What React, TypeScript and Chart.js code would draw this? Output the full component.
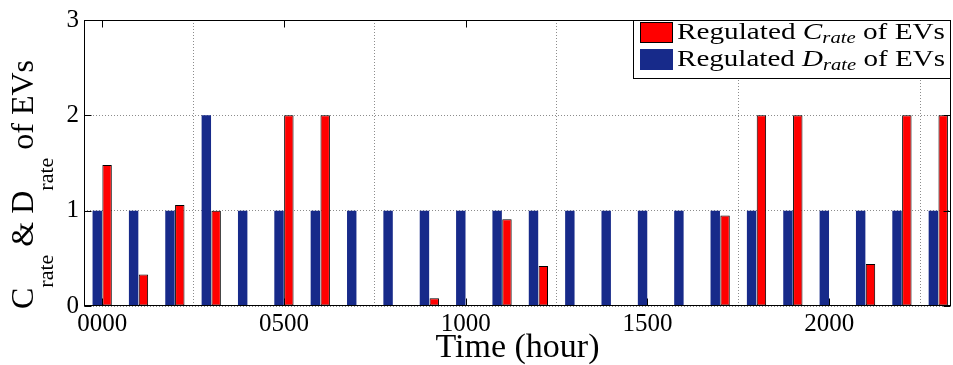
import { useEffect, useRef } from "react";
import { Chart, registerables } from "chart.js";

Chart.register(...registerables);

// Hour of day for each group of bars
const hours = [
  0, 100, 200, 300, 400, 500, 600, 700, 800, 900, 1000, 1100,
  1200, 1300, 1400, 1500, 1600, 1700, 1800, 1900, 2000, 2100, 2200, 2300,
];

// Regulated discharging rate (D_rate) of EVs
const dischargeRate = [
  1, 1, 1, 2, 1, 1, 1, 1, 1, 1, 1, 1,
  1, 1, 1, 1, 1, 1, 1, 1, 1, 1, 1, 1,
];

// Regulated charging rate (C_rate) of EVs
const chargeRate = [
  1.48, 0.33, 1.06, 1.0, 0, 2, 2, 0, 0, 0.08, 0, 0.91,
  0.42, 0, 0, 0, 0, 0.95, 2, 2, 0, 0.44, 2, 2,
];

const xTicks = [0, 500, 1000, 1500, 2000];
const xTickLabels = ["0000", "0500", "1000", "1500", "2000"];
const yTicks = [0, 1, 2, 3];

const SERIF = "'Liberation Serif', 'Times New Roman', serif";
const RED = "#ff0000";
const BLUE = "#172a8a";

type Seg = { text: string; size: number; italic?: boolean; sub?: number };

function drawSegments(ctx: CanvasRenderingContext2D, segs: Seg[]) {
  let x = 0;
  for (const s of segs) {
    ctx.font = `${s.italic ? "italic " : ""}${s.size}px ${SERIF}`;
    ctx.fillText(s.text, x, s.sub || 0);
    x += ctx.measureText(s.text).width;
  }
  return x;
}

function segWidth(ctx: CanvasRenderingContext2D, segs: Seg[]) {
  let w = 0;
  for (const s of segs) {
    ctx.font = `${s.italic ? "italic " : ""}${s.size}px ${SERIF}`;
    w += ctx.measureText(s.text).width;
  }
  return w;
}

// Axes box, inward tick marks, rotated y title with subscripts, and the legend
const decorations = {
  id: "decorations",
  afterDatasetsDraw(chart: any) {
    const { ctx, chartArea: a, scales } = chart;
    const x = scales.x;
    const y = scales.y;
    ctx.save();
    ctx.strokeStyle = "#000";
    ctx.lineWidth = 1;
    ctx.setLineDash([]);

    // frame
    const L = Math.round(a.left) + 0.5;
    const R = Math.round(a.right) - 0.5;
    const T = Math.round(a.top) + 0.5;
    const B = Math.round(a.bottom) - 0.5;
    ctx.strokeRect(L, T, R - L, B - T);

    // inward tick marks
    ctx.beginPath();
    for (const v of xTicks) {
      const px = Math.round(x.getPixelForValue(v)) + 0.5;
      ctx.moveTo(px, B);
      ctx.lineTo(px, B - 7);
      ctx.moveTo(px, T);
      ctx.lineTo(px, T + 7);
    }
    for (const v of yTicks) {
      const py = Math.round(y.getPixelForValue(v)) + 0.5;
      ctx.moveTo(L, py);
      ctx.lineTo(L + 7, py);
      ctx.moveTo(R, py);
      ctx.lineTo(R - 7, py);
    }
    ctx.stroke();

    // y-axis title: C_rate & D_rate of EVs
    ctx.fillStyle = "#000";
    ctx.textBaseline = "alphabetic";
    ctx.textAlign = "left";
    ctx.save();
    ctx.translate(33, a.bottom + 3);
    ctx.rotate(-Math.PI / 2);
    drawSegments(ctx, [
      { text: "C", size: 32 },
      { text: "rate", size: 22, sub: 20 },
      { text: " & ", size: 32 },
      { text: "D", size: 32 },
      { text: "rate", size: 22, sub: 20 },
      { text: " of EVs", size: 32 },
    ]);
    ctx.restore();

    // legend
    const lx = 633.5;
    const ly = Math.round(a.top) + 0.5;
    const lw = R - lx;
    const lh = 58;
    ctx.fillStyle = "#fff";
    ctx.fillRect(lx, ly, lw, lh);
    ctx.strokeStyle = "#000";
    ctx.strokeRect(lx, ly, lw, lh);

    const rows = [
      { color: RED, edge: "#000", letter: "C", top: 22, base: 39 },
      { color: BLUE, edge: BLUE, letter: "D", top: 49, base: 66 },
    ];
    for (const r of rows) {
      ctx.fillStyle = r.color;
      ctx.fillRect(640, r.top, 33, 21);
      ctx.strokeStyle = r.edge;
      ctx.strokeRect(640.5, r.top + 0.5, 32, 20);
      const segs: Seg[] = [
        { text: "Regulated ", size: 24 },
        { text: r.letter, size: 24, italic: true },
        { text: "rate", size: 17, italic: true, sub: 4 },
        { text: " of EVs", size: 24 },
      ];
      const w = segWidth(ctx, segs);
      ctx.save();
      ctx.translate(677, r.base);
      ctx.scale(268 / w, 1);
      ctx.fillStyle = "#000";
      drawSegments(ctx, segs);
      ctx.restore();
    }
    ctx.restore();
  },
};

export default function App() {
  const canvasRef = useRef<HTMLCanvasElement | null>(null);

  useEffect(() => {
    document.body.style.margin = "0";
    const canvas = canvasRef.current;
    if (!canvas) return;

    const chart = new Chart(canvas, {
      type: "bar",
      data: {
        datasets: [
          {
            label: "Regulated D_rate of EVs",
            data: hours.map((h, i) => ({ x: h, y: dischargeRate[i] })),
            backgroundColor: BLUE,
            borderWidth: 0,
            categoryPercentage: 0.54,
            barPercentage: 0.96,
          },
          {
            label: "Regulated C_rate of EVs",
            data: hours.map((h, i) => ({ x: h, y: chargeRate[i] })),
            backgroundColor: RED,
            borderColor: "#000",
            borderWidth: 1,
            borderSkipped: false,
            categoryPercentage: 0.54,
            barPercentage: 0.96,
          },
        ],
      },
      options: {
        responsive: false,
        animation: false,
        events: [],
        layout: { padding: { top: 17, right: 2, left: 0, bottom: 0 } },
        plugins: {
          legend: { display: false },
          tooltip: { enabled: false },
        },
        scales: {
          x: {
            type: "linear",
            min: -50,
            max: 2335,
            offset: false,
            afterBuildTicks: (s: any) => {
              s.ticks = xTicks.map((v) => ({ value: v }));
            },
            afterFit: (s: any) => {
              s.height = 59;
            },
            ticks: {
              autoSkip: false,
              maxRotation: 0,
              padding: 3,
              color: "#000",
              font: { family: SERIF, size: 25 },
              callback: (v: any) => {
                const i = xTicks.indexOf(Number(v));
                return i >= 0 ? xTickLabels[i] : "";
              },
            },
            grid: {
              color: "#8c8c8c",
              lineWidth: 1,
              drawTicks: false,
            },
            border: { display: false, dash: [1, 2] },
            title: {
              display: true,
              text: "Time (hour)",
              color: "#000",
              font: { family: SERIF, size: 34, lineHeight: 1 },
              padding: { top: 0, bottom: 0 },
            },
          },
          y: {
            min: 0,
            max: 3,
            afterBuildTicks: (s: any) => {
              s.ticks = yTicks.map((v) => ({ value: v }));
            },
            afterFit: (s: any) => {
              s.width = 84;
            },
            ticks: {
              padding: 5,
              color: "#000",
              font: { family: SERIF, size: 25 },
            },
            grid: {
              color: "#8c8c8c",
              lineWidth: 1,
              drawTicks: false,
            },
            border: { display: false, dash: [1, 2] },
          },
        },
      },
      plugins: [decorations],
    });

    return () => chart.destroy();
  }, []);

  return (
    <div style={{ width: 953, height: 365, background: "#fff" }}>
      <canvas ref={canvasRef} width={953} height={365} />
    </div>
  );
}
